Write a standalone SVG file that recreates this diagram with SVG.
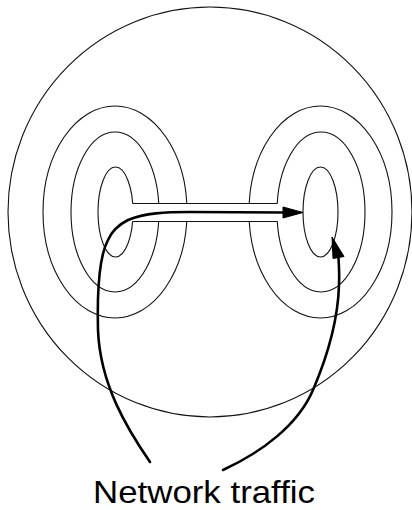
<svg xmlns="http://www.w3.org/2000/svg" width="412" height="510" viewBox="0 0 412 510">
<style>
.thin{fill:none;stroke:#111;stroke-width:1.1}
.flow{fill:none;stroke:#000;stroke-width:2.6;stroke-linecap:round}
.head{fill:#000;stroke:#000;stroke-width:1;stroke-linejoin:miter}
.lbl{font-family:"Liberation Sans",Arial,sans-serif;font-size:32px;fill:#000}
</style>
<rect width="412" height="510" fill="#fff"/>
<g id="boundary">
<ellipse class="thin" cx="210" cy="212" rx="202" ry="205"/>
</g>
<g id="left-host">
<ellipse class="thin" cx="115" cy="212" rx="72" ry="106"/>
<ellipse class="thin" cx="115" cy="212" rx="44" ry="80"/>
<ellipse class="thin" cx="115.5" cy="212" rx="17.5" ry="45"/>
</g>
<g id="right-host">
<ellipse class="thin" cx="320.5" cy="212" rx="71.5" ry="106"/>
<ellipse class="thin" cx="321" cy="212" rx="44" ry="80"/>
<ellipse class="thin" cx="320.5" cy="212" rx="17.5" ry="45"/>
</g>
<g id="channel">
<rect x="132" y="203.5" width="146" height="18" fill="#fff"/>
<path class="thin" d="M132.5,203.5 H277.5 M132.5,221.5 H277.5"/>
</g>
<g id="connectors">
<path class="flow" d="M150,462 C128,430 100,385 98,330 C97,290 100,255 108,240 C112,231 118,225 128,220 C145,213 165,212 190,212 L285,212.5"/>
<polygon class="head" points="283,207 303,212.5 283,218"/>
<path class="flow" d="M223,470 C262,452 298,425 313,390 C328,355 338,320 339,285 C339.5,275 339,266 338.5,258"/>
<polygon class="head" points="332,237 333,258.5 344,256.5"/>
</g>
<g id="label">
<text class="lbl" x="93" y="503" textLength="222" lengthAdjust="spacingAndGlyphs">Network traffic</text>
</g>
</svg>
